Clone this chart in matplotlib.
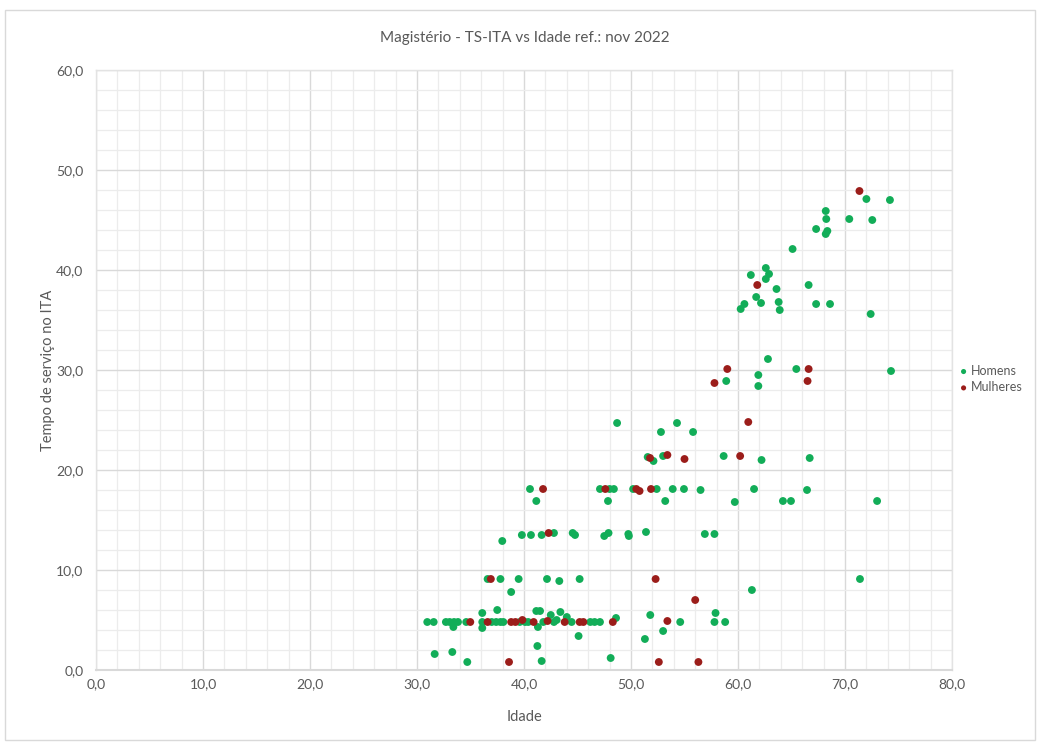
import matplotlib
matplotlib.use("Agg")
import matplotlib.pyplot as plt
from matplotlib.patches import Rectangle
from matplotlib.ticker import MultipleLocator, FuncFormatter

plt.rcParams['font.family'] = ['Lato', 'DejaVu Sans']

title = "Magistério - TS-ITA vs Idade ref.: nov 2022"
x_label = "Idade"
y_label = "Tempo de serviço no ITA"
series_names = ["Homens", "Mulheres"]

# Idade / tempo de serviço - Homens
homens_idade = [
    30.96, 31.56, 32.7, 33.05, 33.46, 33.83, 34.6, 36.1, 36.98, 37.4, 37.8, 38.07,
    39.6, 40.1, 40.4, 41.8, 42.8, 44.45, 46.2, 46.6, 47.1, 54.6, 57.8, 58.8,
    33.4, 36.1, 36.1, 37.5, 41.15, 41.5, 41.3, 42.5, 43.05, 43.4, 44.0, 48.6, 51.8, 57.9,
    31.65, 33.3, 34.7, 41.25, 41.65, 45.1, 48.1, 53.0, 51.3,
    38.8, 61.3,
    36.6, 37.8, 39.5, 42.15, 43.3, 45.2, 71.4,
    37.97, 39.8, 40.65, 41.65, 42.8, 44.55, 44.77, 47.5, 47.9, 49.75, 49.8, 51.4, 56.9, 57.8,
    40.56, 41.15, 47.1, 48.0, 48.4, 47.85, 50.2, 52.4, 53.9, 54.95, 56.5, 53.2, 59.7,
    61.5, 64.2, 64.95, 66.45, 73.0,
    51.56, 52.1, 53.0, 58.66, 62.2, 66.7,
    48.7, 52.8, 54.3, 55.8,
    58.9, 61.9, 61.9, 62.8, 65.45, 74.3,
    60.25, 60.6, 61.2, 61.7, 62.15, 62.6, 62.9, 62.6, 63.6, 63.8, 63.9, 66.6, 67.3, 68.6, 72.4,
    65.1, 67.3, 68.2, 68.25, 68.35, 68.2, 70.4, 72.55, 72.0, 74.2,
]
homens_tempo = [
    4.8, 4.8, 4.8, 4.8, 4.8, 4.8, 4.8, 4.8, 4.8, 4.8, 4.8, 4.8,
    4.8, 4.8, 4.8, 4.8, 4.8, 4.8, 4.8, 4.8, 4.8, 4.8, 4.8, 4.8,
    4.3, 4.2, 5.7, 6.0, 5.9, 5.9, 4.3, 5.5, 5.0, 5.8, 5.3, 5.2, 5.5, 5.7,
    1.6, 1.8, 0.8, 2.4, 0.9, 3.4, 1.2, 3.9, 3.1,
    7.8, 8.0,
    9.1, 9.1, 9.1, 9.1, 8.9, 9.1, 9.1,
    12.9, 13.5, 13.5, 13.5, 13.7, 13.7, 13.5, 13.4, 13.7, 13.6, 13.4, 13.8, 13.6, 13.6,
    18.1, 16.9, 18.1, 18.1, 18.1, 16.9, 18.1, 18.1, 18.1, 18.1, 18.0, 16.9, 16.8,
    18.1, 16.9, 16.9, 18.0, 16.9,
    21.3, 20.9, 21.4, 21.4, 21.0, 21.2,
    24.7, 23.8, 24.7, 23.8,
    28.9, 29.5, 28.4, 31.1, 30.1, 29.9,
    36.1, 36.6, 39.5, 37.3, 36.7, 40.2, 39.6, 39.1, 38.1, 36.8, 36.0, 38.5, 36.6, 36.6, 35.6,
    42.1, 44.1, 45.9, 45.1, 43.9, 43.6, 45.1, 45.0, 47.1, 47.0,
]

# Idade / tempo de serviço - Mulheres
mulheres_idade = [
    36.9, 34.98, 36.6, 38.8, 39.2, 39.85, 40.9, 42.2, 43.8, 45.2, 45.55, 48.3, 38.6,
    42.3, 41.78, 47.6, 50.5, 50.8, 51.87, 51.78, 53.4, 55.0, 60.2, 60.96,
    52.3, 56.0, 53.4, 52.6, 56.3, 57.8, 59.0, 66.6, 66.5, 61.8, 71.35,
]
mulheres_tempo = [
    9.1, 4.8, 4.8, 4.8, 4.8, 5.0, 4.8, 4.9, 4.8, 4.8, 4.8, 4.8, 0.8,
    13.7, 18.1, 18.1, 18.1, 17.9, 18.1, 21.2, 21.5, 21.1, 21.4, 24.8,
    9.1, 7.0, 4.9, 0.8, 0.8, 28.7, 30.1, 30.1, 28.9, 38.5, 47.9,
]

x_limits = (0, 80)
y_limits = (0, 60)

green = "#12ad58"
red = "#9b1d1a"
text_grey = "#595959"

fig = plt.figure(figsize=(10.4, 7.44), dpi=100)
fig.patch.set_facecolor("white")

# chart-area frame
fig.patches.append(Rectangle((5 / 1040, 4 / 744), 1030 / 1040, 730 / 744,
                             transform=fig.transFigure, fill=False,
                             edgecolor="#d9d9d9", linewidth=1.0))

ax = fig.add_axes([96 / 1040, 1 - 670 / 744, 856 / 1040, 600 / 744])

ax.set_xlim(*x_limits)
ax.set_ylim(*y_limits)
ax.xaxis.set_major_locator(MultipleLocator(10))
ax.yaxis.set_major_locator(MultipleLocator(10))
ax.xaxis.set_minor_locator(MultipleLocator(2))
ax.yaxis.set_minor_locator(MultipleLocator(2))

fmt = FuncFormatter(lambda v, _: f"{v:.1f}".replace(".", ","))
ax.xaxis.set_major_formatter(fmt)
ax.yaxis.set_major_formatter(fmt)

ax.grid(which="major", color="#d9d9d9", linewidth=1.0)
ax.grid(which="minor", color="#ececec", linewidth=0.9)
ax.set_axisbelow(True)
ax.tick_params(which="both", length=0)
ax.tick_params(axis="both", labelsize=10, colors=text_grey, pad=6)
ax.tick_params(axis="y", pad=9)

for side in ["top", "right", "left"]:
    ax.spines[side].set_color("#e3e3e3")
    ax.spines[side].set_linewidth(1.0)
ax.spines["bottom"].set_color("#d9d9d9")
ax.spines["bottom"].set_linewidth(1.5)

ax.scatter(homens_idade, homens_tempo, s=32, color=green, edgecolors="none",
           label=series_names[0], zorder=3)
ax.scatter(mulheres_idade, mulheres_tempo, s=32, color=red, edgecolors="none",
           label=series_names[1], zorder=4)

ax.set_xlabel(x_label, fontsize=10.5, color=text_grey, labelpad=14)
ax.set_ylabel(y_label, fontsize=10.5, color=text_grey, labelpad=1)

fig.text(0.505, 1 - 38 / 744, title, ha="center", va="center",
         fontsize=11, color=text_grey)

leg = ax.legend(loc="center left", bbox_to_anchor=(0.996, 0.485), frameon=False,
                fontsize=9, handletextpad=0.1, borderpad=0.2,
                labelspacing=0.35, markerscale=0.65, handlelength=1.0)
for t in leg.get_texts():
    t.set_color(text_grey)

fig.savefig("out.png", dpi=100, facecolor="white")
